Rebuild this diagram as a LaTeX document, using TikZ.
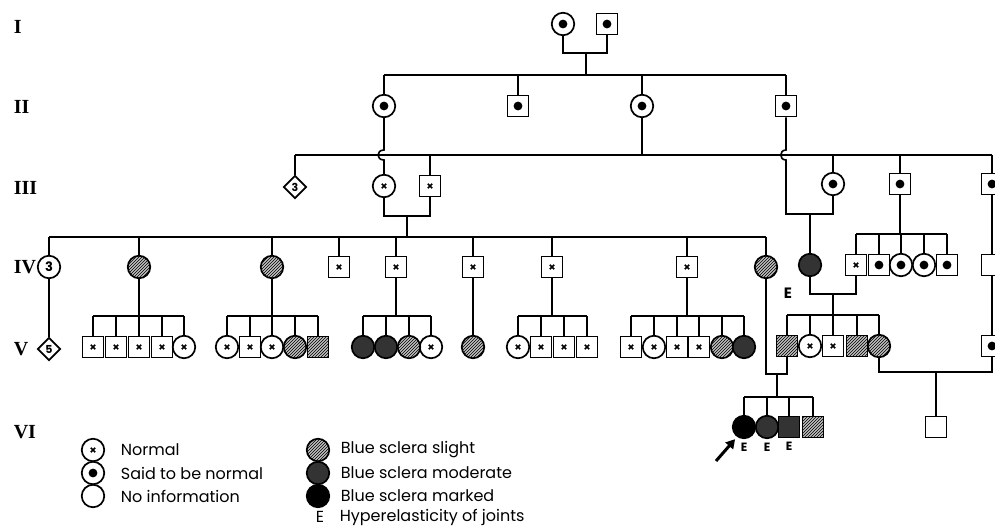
\documentclass[tikz,border=0pt]{standalone}
\usepackage{fontspec}
\usepackage{tikz}
\usetikzlibrary{arrows.meta,calc,positioning,patterns,shapes.geometric}
\newfontfamily\keyfont{Poppins}
\newfontfamily\genfont{Liberation Serif}

\begin{document}
\begin{tikzpicture}[x=1pt,y=-1pt,line width=1.6pt,
  base/.style={draw,line width=1.7pt,inner sep=0pt},
  sq/.style={base,rectangle,minimum size=21pt},
  ci/.style={base,circle,minimum size=22.5pt},
  xm/.style={path picture={
    \draw[line width=1.6pt] ($(path picture bounding box.center)+(-2.2,-2.2)$) -- ($(path picture bounding box.center)+(2.2,2.2)$)
      ($(path picture bounding box.center)+(-2.2,2.2)$) -- ($(path picture bounding box.center)+(2.2,-2.2)$);}},
  dm/.style={path picture={\fill (path picture bounding box.center) circle (4.4pt);}},
  hatch/.style={preaction={fill=black!25},pattern=north east lines},
  nsq/.style={sq,xm}, nci/.style={ci,xm},
  dsq/.style={sq,dm}, dci/.style={ci,dm},
  hsq/.style={sq,hatch}, hci/.style={ci,hatch},
  msq/.style={sq,fill=black!80}, mci/.style={ci,fill=black!80},
  kci/.style={ci,fill=black},
  esq/.style={sq}, eci/.style={ci},
  dia/.style={base,diamond,minimum size=23pt,font=\keyfont\bfseries\fontsize{11}{11}\selectfont},
  gen/.style={font=\genfont\bfseries\fontsize{20}{20}\selectfont,inner sep=0pt,anchor=west},
  key/.style={font=\keyfont\fontsize{16}{16}\selectfont,inner sep=0pt},
  ejoint/.style={font=\keyfont\bfseries\fontsize{12}{12}\selectfont,inner sep=0pt}]
  \useasboundingbox (0,0) rectangle (995,528);
  \clip (0,0) rectangle (995,528);

  % generations
  \foreach \y/\g in {27/I,107/II,188/III,267/IV,349/V,432/VI}
    \node[gen] at (13,\y) {\g};

  % I
  \node[dci] (i1) at (563,24) {};
  \node[dsq] (i2) at (607,24) {};
  \coordinate (m1) at (586,53);
  \coordinate (s2) at (0,75);
  \draw (i1.south) |- (m1) -| (i2.south);
  \draw (m1) -- (m1 |- s2);

  % II
  \foreach \n/\s/\x in {1/dci/384,2/dsq/518,3/dci/642,4/dsq/786}
    \node[\s] (ii\n) at (\x,106) {};
  \draw (ii1 |- s2) -- (ii4 |- s2);
  \foreach \n in {1,...,4} \draw (ii\n.north) -- (ii\n |- s2);

  % III
  \coordinate (s3) at (0,155);
  \node[dia] (iii1) at (295,187) {3};
  \node[nci] (iii2) at (384,186) {};
  \node[nsq] (iii3) at (430,186) {};
  \node[dci] (iii4) at (833,184) {};
  \node[dsq] (iii5) at (900,184) {};
  \node[dsq] (iii6) at (992,184) {};
  \draw (iii1 |- s3) -- (iii6 |- s3);
  \foreach \n in {1,3,4,5,6} \draw (iii\n.north) -- (iii\n |- s3);
  \draw (ii3.south) -- (ii3 |- s3);
  \draw (ii1.south) -- ($(ii1 |- s3)+(0,-5)$) .. controls +(-8,0) and +(-8,0) .. ($(ii1 |- s3)+(0,5)$) -- (iii2.north);
  \coordinate (m3) at (810,214);
  \draw (ii4.south) -- ($(ii4 |- s3)+(0,-5)$) .. controls +(-7,0) and +(-7,0) .. ($(ii4 |- s3)+(0,5)$) |- (m3) -| (iii4.south);
  \coordinate (m2) at (407,216);
  \coordinate (s4) at (0,237);
  \draw (iii2.south) |- (m2) -| (iii3.south);
  \draw (m2) -- (m2 |- s4);

  % IV
  \node[ci,font=\keyfont\bfseries\fontsize{13}{13}\selectfont] (iv1) at (49,267) {3};
  \foreach \n/\s/\x in {2/hci/139,3/hci/272,4/nsq/339,5/nsq/396,6/nsq/473,7/nsq/552,8/nsq/687,9/hci/766}
    \node[\s] (iv\n) at (\x,267) {};
  \draw (iv1 |- s4) -- (iv9 |- s4);
  \foreach \n in {1,...,9} \draw (iv\n.north) -- (iv\n |- s4);
  \node[mci] (iv10) at (810,265) {};
  \foreach \n/\s/\x in {11/nsq/856,12/dsq/879,13/dci/901,14/dci/924,15/dsq/947}
    \node[\s] (iv\n) at (\x,265) {};
  \node[esq] (iv16) at (992,265) {};
  \coordinate (s4r) at (0,234);
  \draw (iv11 |- s4r) -- (iv15 |- s4r);
  \foreach \n in {11,...,15} \draw (iv\n.north) -- (iv\n |- s4r);
  \draw (iii5.south) -- (iii5 |- s4r);
  \draw (iii6.south) -- (iv16.north);
  \draw (m3) -- (iv10.north);
  \node[ejoint,font=\keyfont\bfseries\fontsize{15}{15}\selectfont] (e0) at (788,293) {E};

  % V
  \coordinate (s5) at (0,316);
  \node[dia] (v0) at (49,349) {5};
  \draw (iv1.south) -- (v0.north);
  \foreach \n/\s/\x in {1/nsq/93,2/nsq/116,3/nsq/139,4/nsq/162,5/nci/184}
    \node[\s] (va\n) at (\x,347) {};
  \draw (va1 |- s5) -- (va5 |- s5);
  \foreach \n in {1,...,5} \draw (va\n.north) -- (va\n |- s5);
  \draw (iv2.south) -- (iv2 |- s5);
  \foreach \n/\s/\x in {1/nci/227,2/nsq/250,3/nci/272,4/hci/295,5/hsq/318}
    \node[\s] (vb\n) at (\x,347) {};
  \draw (vb1 |- s5) -- (vb5 |- s5);
  \foreach \n in {1,...,5} \draw (vb\n.north) -- (vb\n |- s5);
  \draw (iv3.south) -- (iv3 |- s5);
  \foreach \n/\s/\x in {1/mci/363,2/mci/386,3/hci/409,4/nci/431}
    \node[\s] (vc\n) at (\x,347) {};
  \draw (vc1 |- s5) -- (vc4 |- s5);
  \foreach \n in {1,...,4} \draw (vc\n.north) -- (vc\n |- s5);
  \draw (iv5.south) -- (iv5 |- s5);
  \node[hci] (vd1) at (473,347) {};
  \draw (iv6.south) -- (vd1.north);
  \foreach \n/\s/\x in {1/nci/518,2/nsq/541,3/nsq/564,4/nsq/587}
    \node[\s] (ve\n) at (\x,347) {};
  \draw (ve1 |- s5) -- (ve4 |- s5);
  \foreach \n in {1,...,4} \draw (ve\n.north) -- (ve\n |- s5);
  \draw (iv7.south) -- (iv7 |- s5);
  \foreach \n/\s/\x in {1/nsq/631,2/nci/654,3/nsq/677,4/nsq/699,5/hci/722,6/mci/744}
    \node[\s] (vf\n) at (\x,347) {};
  \draw (vf1 |- s5) -- (vf6 |- s5);
  \foreach \n in {1,...,6} \draw (vf\n.north) -- (vf\n |- s5);
  \draw (iv8.south) -- (iv8 |- s5);
  \coordinate (m4) at (833,294);
  \coordinate (s5r) at (0,315);
  \draw (iv10.south) |- (m4) -| (iv11.south);
  \foreach \n/\s/\x in {1/hsq/787,2/nci/810,3/nsq/833,4/hsq/857,5/hci/879}
    \node[\s] (vg\n) at (\x,346) {};
  \draw (vg1 |- s5r) -- (vg5 |- s5r);
  \foreach \n in {1,...,5} \draw (vg\n.north) -- (vg\n |- s5r);
  \draw (m4) -- (m4 |- s5r);
  \node[dsq] (v9) at (992,346) {};
  \draw (iv16.south) -- (v9.north);

  % VI
  \coordinate (m5) at (777,374);
  \coordinate (s6) at (0,397);
  \draw (iv9.south) |- (m5) -| (vg1.south);
  \foreach \n/\s/\x in {1/kci/744,2/mci/767,3/msq/789,4/hsq/813}
    \node[\s] (vi\n) at (\x,427) {};
  \draw (vi1 |- s6) -- (vi4 |- s6);
  \foreach \n in {1,...,4} \draw (vi\n.north) -- (vi\n |- s6);
  \draw (m5) -- (m5 |- s6);
  \foreach \n in {1,2,3} \node[ejoint,below=3pt of vi\n.south] (ev\n) {E};
  \coordinate (m6) at (936,372);
  \draw (vg5.south) |- (m6) -| (v9.south);
  \node[esq] (vi5) at (936,427) {};
  \draw (m6) -- (vi5.north);
  \coordinate (ar) at (716,461);
  \draw[-{Triangle[length=9pt,width=10pt]},line width=3pt,shorten >=3pt] (ar) -- (vi1.235);

  % key
  \foreach \n/\s/\y/\t in {1/nci/450/Normal,2/dci/473/Said to be normal,3/eci/496/No information}{
    \node[\s] (ka\n) at (93,\y) {};
    \node[key,right=15pt of ka\n] (ta\n) {\t};
  }
  \foreach \n/\s/\y/\t in {1/hci/450/Blue sclera slight,2/mci/473/Blue sclera moderate,3/kci/496/Blue sclera marked}{
    \node[\s] (kb\n) at (318,\y) {};
    \node[key,right=10pt of kb\n] (tb\n) {\t};
  }
  \node[key] (ke) at (320,517) {E};
  \node[key,anchor=west] (tk) at (339,517) {Hyperelasticity of joints};
\end{tikzpicture}
\end{document}
